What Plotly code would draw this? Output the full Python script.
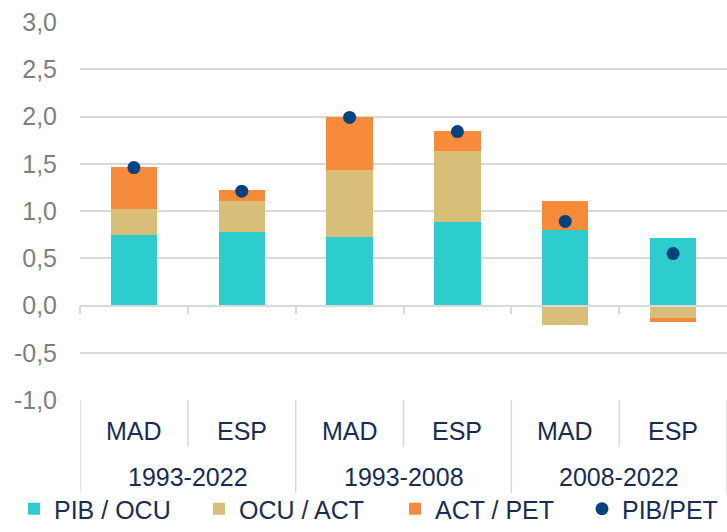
import plotly.graph_objects as go

# Decomposition of GDP-per-working-age-person growth (average annual %, p.p.)
periodos = ["1993-2022", "1993-2008", "2008-2022"]
regiones = ["MAD", "ESP"]
posiciones = [0, 1, 2, 3, 4, 5]

pib_ocu = [0.75, 0.78, 0.72, 0.88, 0.80, 0.71]
ocu_act = [0.27, 0.33, 0.71, 0.76, -0.21, -0.135]
act_pet = [0.45, 0.11, 0.57, 0.21, 0.31, -0.04]
pib_pet = [1.46, 1.21, 1.99, 1.84, 0.89, 0.55]

y_ticks = [-1.0, -0.5, 0.0, 0.5, 1.0, 1.5, 2.0, 2.5, 3.0]
y_labels = [f"{v:.1f}".replace(".", ",") for v in y_ticks]

TEAL = "#2ECDCD"
TAN = "#D8BE78"
ORANGE = "#F68B3C"
NAVY_DOT = "#02437F"
TEXT = "#1A2C54"
GRID = "#D9D9D9"
FONT = "Liberation Sans, Arial, sans-serif"

BAR_W = 0.43

fig = go.Figure()
fig.add_trace(go.Bar(x=posiciones, y=pib_ocu, name="PIB / OCU", legend="legend",
                     marker=dict(color=TEAL, line=dict(width=0)), width=BAR_W))
fig.add_trace(go.Bar(x=posiciones, y=ocu_act, name="OCU / ACT", legend="legend2",
                     marker=dict(color=TAN, line=dict(width=0)), width=BAR_W))
fig.add_trace(go.Bar(x=posiciones, y=act_pet, name="ACT / PET", legend="legend3",
                     marker=dict(color=ORANGE, line=dict(width=0)), width=BAR_W))
fig.add_trace(go.Scatter(x=posiciones, y=pib_pet, name="PIB/PET", mode="markers",
                         legend="legend4", marker=dict(color=NAVY_DOT, size=13)))

# Two-level category labels under the plot
etiquetas = [r for _ in periodos for r in regiones]
for xi, lab in zip(posiciones, etiquetas):
    fig.add_annotation(x=xi, y=-0.082, xref="x", yref="paper", text=lab,
                       yanchor="middle", showarrow=False,
                       font=dict(size=25, color=TEXT, family=FONT))
for gi, per in enumerate(periodos):
    fig.add_annotation(x=2 * gi + 0.5, y=-0.205, xref="x", yref="paper", text=per,
                       yanchor="middle", showarrow=False,
                       font=dict(size=25, color=TEXT, family=FONT))

# Divider lines of the category table
for xb in [-0.5, 1.5, 3.5, 5.5]:
    fig.add_shape(type="line", xref="x", yref="paper", x0=xb, x1=xb, y0=0, y1=-0.246,
                  line=dict(color=GRID, width=1.5))
for xb in [0.5, 2.5, 4.5]:
    fig.add_shape(type="line", xref="x", yref="paper", x0=xb, x1=xb, y0=0, y1=-0.124,
                  line=dict(color=GRID, width=1.5))


def legend_box(x):
    return dict(orientation="h", x=x, xanchor="left", xref="container",
                y=0.0, yanchor="bottom", yref="container",
                font=dict(size=25, color=TEXT, family=FONT),
                bgcolor="rgba(0,0,0,0)", borderwidth=0)


fig.update_layout(
    width=727, height=532,
    margin=dict(l=80, r=0, t=22, b=132),
    paper_bgcolor="white", plot_bgcolor="white",
    barmode="relative", bargap=0,
    font=dict(family=FONT, color=TEXT),
    showlegend=True,
    legend=legend_box(14 / 727),
    legend2=legend_box(199 / 727),
    legend3=legend_box(395 / 727),
    legend4=legend_box(582 / 727),
    xaxis=dict(range=[-0.5, 5.5], anchor="free", position=0.25,
               showline=True, linecolor=GRID, linewidth=1.5,
               tickmode="array", tickvals=[-0.5, 0.5, 1.5, 2.5, 3.5, 4.5],
               ticks="outside", ticklen=8, tickcolor=GRID, tickwidth=1.5,
               showticklabels=False, showgrid=False, zeroline=False, fixedrange=True),
    yaxis=dict(range=[-1.0, 3.0], tickmode="array", tickvals=y_ticks, ticktext=y_labels,
               showgrid=True, gridcolor=GRID, gridwidth=1.5,
               zeroline=True, zerolinecolor=GRID, zerolinewidth=1.5,
               showline=False, ticks="", ticklabelstandoff=22,
               tickfont=dict(size=25, color="#7F7F7F", family=FONT)),
)

fig.write_html("out.html")
